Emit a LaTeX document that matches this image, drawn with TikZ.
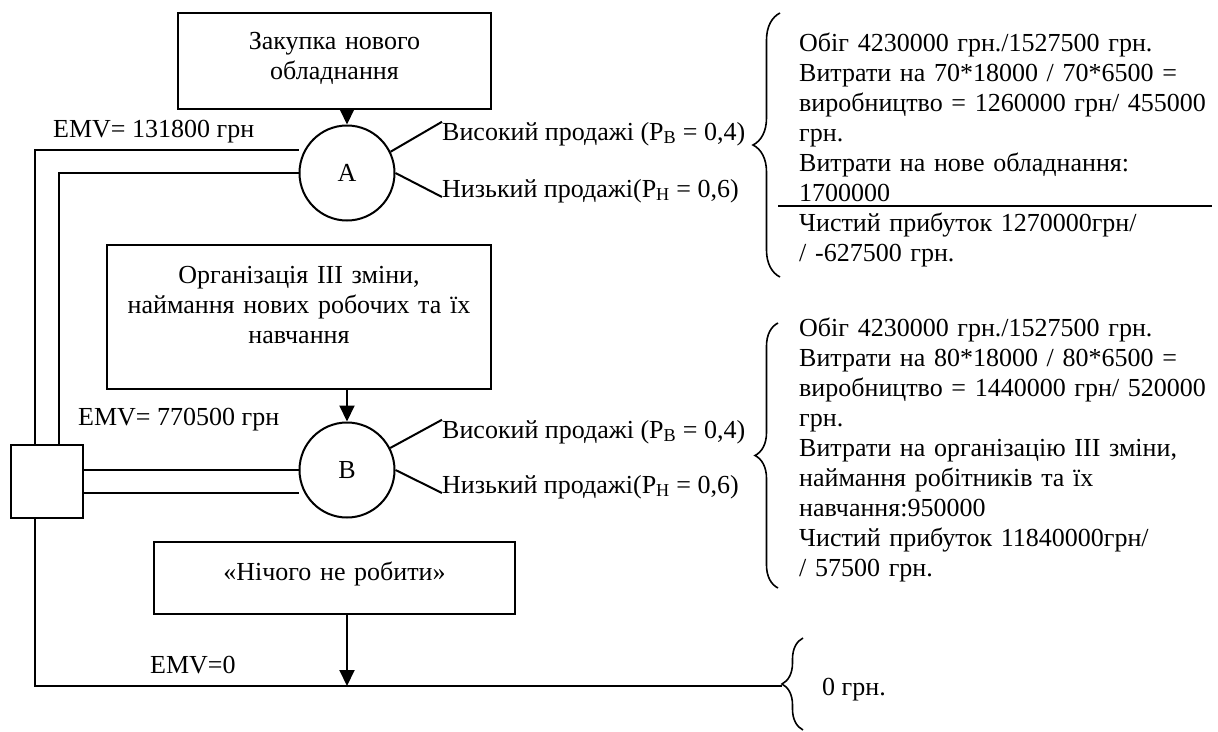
\documentclass[tikz,border=0pt]{standalone}
\usepackage{fontspec}
\setmainfont{Liberation Serif}
\usetikzlibrary{arrows.meta,decorations.pathreplacing}

\begin{document}
\begin{tikzpicture}[
  x=1pt, y=-1pt,
  every node/.style={font=\fontsize{26}{30}\selectfont, inner sep=0pt},
  box/.style={draw, line width=2pt, align=center, anchor=base},
  chance/.style={draw, circle, line width=2pt, minimum size=95pt},
  decision/.style={draw, line width=2pt, minimum width=72pt, minimum height=73pt},
  link/.style={line width=2pt},
  arrow/.style={line width=2pt, -{Triangle[length=16pt, width=15pt]}},
  curly/.style={decorate, decoration={brace, amplitude=#1}, line width=1.6pt},
  info/.style={anchor=base west, align=left, text width=440pt},
  lbl/.style={anchor=base west},
]
\useasboundingbox (0,0) rectangle (1218,731);

\node[box, text width=313pt, text height=36pt, text depth=60pt] (buy) at (334.5,49)
  {Закупка нового\\обладнання};
\node[box, text width=384pt, text height=38pt, text depth=106pt] (org) at (299,283)
  {Організація III зміни,\\наймання нових робочих та їх\\навчання};
\node[box, text width=361pt, text height=38pt, text depth=34pt] (idle) at (334.5,580)
  {«Нічого не робити»};

\node[chance] (A) at (347,173) {A};
\node[chance] (B) at (347,470) {B};
\node[decision] (D) at (47,481.5) {};

\coordinate (a1) at (35,150);
\coordinate (a2) at (59,173);
\coordinate (b2) at (83,493);
\coordinate (z) at (35,686);
\coordinate (tip0) at (782,686);

\draw[link] (A.west |- a1) -- (a1) -- (a1 |- D.north);
\draw[link] (A.west) -- (a2) -- (a2 |- D.north);
\draw[link] (D.east |- B.west) -- (B.west);
\draw[link] (b2) -- (B.west |- b2);
\draw[link] (D.south -| a1) -- (z) -- (tip0);

\draw[arrow] (buy.south -| A) -- (A.north);
\draw[arrow] (org.south -| B) -- (B.north);
\draw[arrow] (idle.south -| A) -- (A |- z);

\node[lbl] (emvA) at (53,137) {EMV= 131800 грн};
\node[lbl] (emvB) at (78,425) {EMV= 770500 грн};
\node[lbl] (emv0) at (150,673) {EMV=0};

\node[lbl] (hiA) at (442,140) {Високий продажі (P\textsubscript{В} = 0,4)};
\node[lbl] (loA) at (442,197) {Низький продажі(P\textsubscript{Н} = 0,6)};
\node[lbl] (hiB) at (442,438) {Високий продажі (P\textsubscript{В} = 0,4)};
\node[lbl] (loB) at (442,493) {Низький продажі(P\textsubscript{Н} = 0,6)};
\draw[link] (A.26) -- (hiA.north west);
\draw[link] (A.east) -- (loA.base west);
\draw[link] (B.27) -- (hiB.north west);
\draw[link] (B.east) -- (loB.base west);

\node[info] (infoA) at (799,51)
  {Обіг 4230000 грн./1527500 грн.\\Витрати на 70*18000 / 70*6500 =\\виробництво = 1260000 грн/ 455000\\грн.\\Витрати на нове обладнання:\\1700000\\Чистий прибуток 1270000грн/\\/ -627500 грн.};
\draw[link] (778,206) -- (1212,206);
\node[info] (infoB) at (799,336)
  {Обіг 4230000 грн./1527500 грн.\\Витрати на 80*18000 / 80*6500 =\\виробництво = 1440000 грн/ 520000\\грн.\\Витрати на організацію III зміни,\\наймання робітників та їх\\навчання:950000\\Чистий прибуток 11840000грн/\\/ 57500 грн.};
\node[lbl] (zeroT) at (822,695) {0 грн.};

\draw[curly=27pt] (780,277) -- (780,13);
\draw[curly=23pt] (778,588) -- (778,323);
\draw[curly=21pt] (803,730) -- (803,638);
\end{tikzpicture}
\end{document}
